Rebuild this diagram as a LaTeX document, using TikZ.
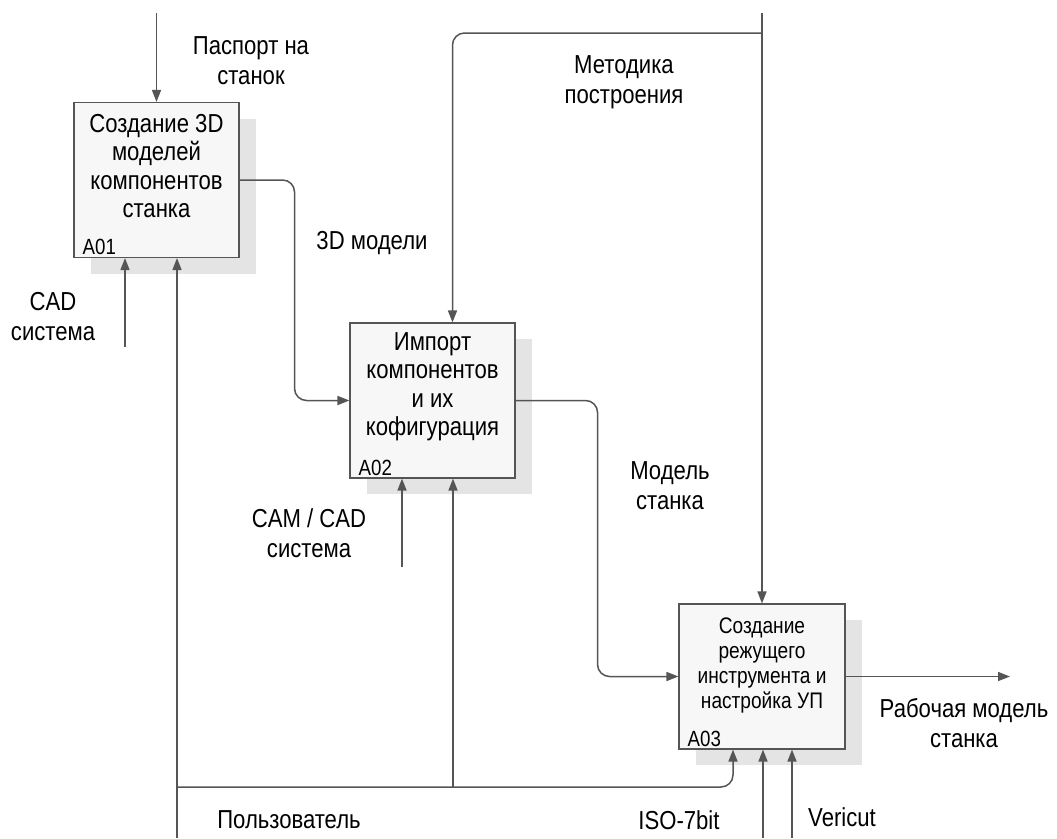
\documentclass[tikz,border=0pt]{standalone}
\usepackage{fontspec}
\setmainfont{Liberation Sans}[FakeStretch=0.85]
\usetikzlibrary{arrows.meta,shadows}
\definecolor{linegray}{HTML}{555555}
\definecolor{boxfill}{HTML}{F7F7F7}
\definecolor{shadegray}{HTML}{E4E4E4}
\begin{document}
\begin{tikzpicture}[x=1pt,y=-1pt,
  func box/.style={rectangle,draw=linegray,fill=boxfill,line width=1.1pt,
    minimum width=165pt,minimum height=155pt,inner sep=0pt,
    general shadow={fill=shadegray,shadow xshift=17pt,shadow yshift=-16pt}},
  box text/.style={align=center,font=\fontsize{26}{28.5}\selectfont},
  small text/.style={align=center,font=\fontsize{22.5}{25}\selectfont},
  box num/.style={anchor=south west,inner sep=3pt,font=\fontsize{22}{24}\selectfont},
  lbl/.style={align=center,font=\fontsize{26}{30}\selectfont},
  flow/.style={draw=linegray,line width=1.5pt,rounded corners=12pt,
    -{Triangle[length=12pt,width=9pt]}},
  plain/.style={draw=linegray,line width=1.5pt}]
  \useasboundingbox (0,0) rectangle (1057,838);
  % function boxes
  \node[func box] (a1) at (156.5,180) {};
  \node[func box] (a2) at (432.5,400.5) {};
  \node[func box,minimum width=166pt,minimum height=145pt] (a3) at (762,676.5) {};
  \node[box text] (a1t) at (156.5,166) {Создание 3D\\моделей\\компонентов\\станка};
  \node[box text] (a2t) at (432.5,386.5) {Импорт\\компонентов\\и их\\кофигурация};
  \node[small text] (a3t) at (762,665) {Создание\\режущего\\инструмента и\\настройка УП};
  \node[box num] (a1n) at ([xshift=6pt]a1.south west) {A01};
  \node[box num] (a2n) at ([xshift=6pt]a2.south west) {A02};
  \node[box num] (a3n) at ([xshift=6pt]a3.south west) {A03};
  % free ends
  \coordinate (pasp) at (156.5,13);
  \coordinate (cad) at (125,347);
  \coordinate (usr) at (177,838);
  \coordinate (usrj) at (177,787);
  \coordinate (usr2) at (453,787);
  \coordinate (cam) at (402,567);
  \coordinate (met) at (762,13);
  \coordinate (metj) at (762,33);
  \coordinate (iso) at (763,838);
  \coordinate (ver) at (792,838);
  \coordinate (out) at (1010,676.5);
  % connectors
  \draw[flow] (pasp) -- (a1.north);
  \draw[flow] (cad) -- (cad |- a1.south);
  \draw[flow] (usr) -- (usr |- a1.south);
  \draw[flow] (usrj) -| ([xshift=-29pt]a3.south);
  \draw[flow] (usr2) -- (usr2 |- a2.south);
  \draw[flow] (cam) -- (cam |- a2.south);
  \draw[flow] (a1.east) -- ++(55,0) |- (a2.west);
  \draw[flow] (a2.east) -- ++(82,0) |- (a3.west);
  \draw[flow] (met) -- (a3.north);
  \draw[flow] (metj) -| ([xshift=20pt]a2.north);
  \draw[flow] (iso) -- (iso |- a3.south);
  \draw[flow] (ver) -- (ver |- a3.south);
  \draw[flow] (a3.east) -- (out);
  % labels
  \node[lbl] (lpasp) at (251,61) {Паспорт на\\станок};
  \node[lbl] (lcad) at (53,317) {CAD\\система};
  \node[lbl] (l3d) at (372,243) {3D модели};
  \node[lbl] (lmet) at (624,82) {Методика\\построения};
  \node[lbl] (lcam) at (309,533) {CAM / CAD\\система};
  \node[lbl] (lmod) at (670,486) {Модель\\станка};
  \node[lbl] (lout) at (964,723) {Рабочая модель\\станка};
  \node[lbl] (lusr) at (289,820) {Пользователь};
  \node[lbl] (liso) at (679,820) {ISO-7bit};
  \node[lbl] (lver) at (842,817) {Vericut};
\end{tikzpicture}
\end{document}
